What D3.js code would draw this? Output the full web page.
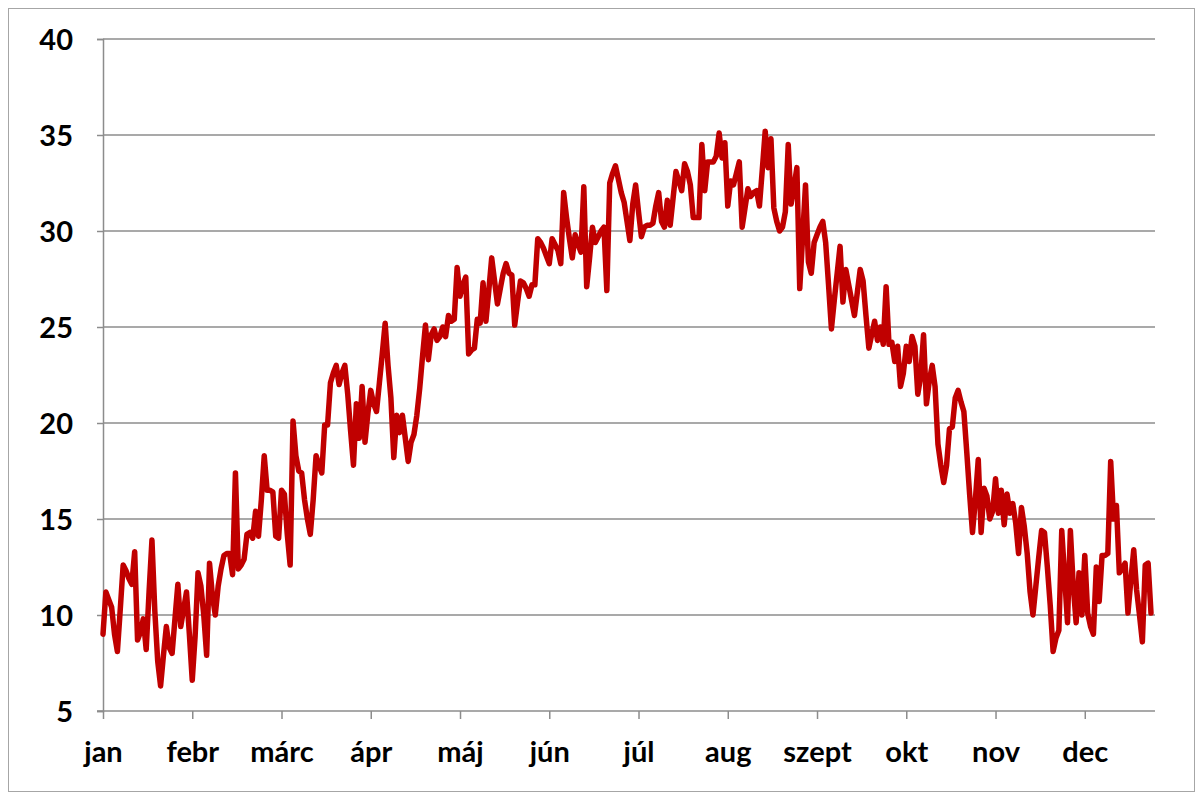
<!DOCTYPE html>
<html>
<head>
<meta charset="utf-8">
<script src="https://cdn.jsdelivr.net/npm/d3@7"></script>
<style>
  html, body { margin: 0; padding: 0; background: #fff; }
  svg { display: block; }
  .lbl { font-family: Lato, "Liberation Sans", sans-serif; font-weight: 700; font-size: 29px; fill: #000; }
</style>
</head>
<body>
<svg id="chart" width="1203" height="800"></svg>
<script>
// daily values, one array per calendar month
const jan = [9.0, 11.2, 10.8, 10.4, 9.0, 8.1, 10.3, 12.6, 12.3, 11.9, 11.6, 13.3, 8.7, 9.1, 9.8, 8.2,
  11.2, 13.9, 10.2, 7.6, 6.3, 7.9, 9.4, 8.3, 8.0, 9.8, 11.6, 9.4, 10.3, 11.2, 9.0];
const febr = [6.6, 8.9, 12.2, 11.5, 10.0, 7.9, 12.7, 11.0, 10.0, 11.5, 12.4, 13.1, 13.2, 13.2, 12.1,
  17.4, 12.4, 12.6, 12.9, 14.2, 14.3, 14.0, 15.4, 14.1, 16.0, 18.3, 16.5, 16.5];
const marc = [16.4, 14.1, 14.0, 16.5, 16.3, 14.2, 12.6, 20.1, 18.3, 17.5, 17.4, 16.0, 15.0, 14.2, 16.0,
  18.3, 17.8, 17.4, 19.9, 19.9, 22.1, 22.6, 23.0, 22.0, 22.6, 23.0, 21.5, 19.6, 17.8, 21.0, 19.2];
const apr = [21.9, 19.0, 20.5, 21.7, 21.0, 20.6, 22.1, 23.6, 25.2, 23.0, 21.3, 18.2, 20.4, 19.5, 20.4,
  19.2, 18.0, 19.0, 19.4, 20.4, 21.8, 23.5, 25.1, 23.3, 24.6, 24.9, 24.3, 24.5, 25.0, 24.5];
const maj = [25.6, 25.3, 25.4, 28.1, 26.6, 27.2, 27.6, 23.6, 23.8, 23.9, 25.4, 25.2, 27.3, 25.3, 26.9,
  28.6, 27.4, 26.2, 27.0, 27.8, 28.3, 27.8, 27.7, 25.1, 26.3, 27.4, 27.3, 27.0, 26.6, 27.2, 27.2];
const jun = [29.6, 29.4, 29.1, 28.7, 28.3, 29.6, 29.3, 29.0, 28.3, 32.0, 30.7, 29.6, 28.6, 29.8, 29.3,
  28.9, 32.3, 27.1, 28.6, 30.2, 29.4, 29.7, 30.0, 30.2, 26.9, 32.5, 33.0, 33.4, 32.7, 32.0];
const jul = [31.5, 30.5, 29.5, 31.4, 32.4, 31.0, 29.7, 30.2, 30.3, 30.3, 30.4, 31.3, 32.0, 30.5, 30.2,
  31.6, 30.3, 31.7, 33.1, 32.6, 32.1, 33.5, 33.1, 32.4, 30.7, 30.7, 30.7, 34.5, 32.1, 33.6, 33.6];
const aug = [33.6, 33.9, 35.1, 33.8, 34.6, 31.3, 32.6, 32.4, 33.0, 33.6, 30.2, 31.2, 32.2, 31.8, 32.0,
  32.1, 31.3, 33.2, 35.2, 33.3, 34.8, 31.2, 30.5, 30.0, 30.2, 31.0, 34.5, 31.4, 32.3, 33.3, 27.0];
const szept = [29.7, 32.4, 28.4, 27.8, 29.4, 29.8, 30.2, 30.5, 29.4, 27.2, 24.9, 26.4, 27.8, 29.2, 26.3,
  28.0, 27.2, 26.4, 25.6, 26.8, 28.0, 27.4, 25.6, 23.9, 24.6, 25.3, 24.3, 25.0, 24.1, 27.1];
const okt = [24.1, 24.2, 23.2, 24.0, 21.9, 22.6, 24.0, 23.2, 24.5, 24.0, 21.5, 22.4, 24.6, 21.0, 22.2,
  23.0, 21.9, 18.9, 17.8, 16.9, 17.8, 19.7, 19.8, 21.3, 21.7, 21.1, 20.6, 18.5, 16.3, 14.3, 16.0];
const nov = [18.1, 14.3, 16.6, 16.2, 15.0, 15.4, 17.1, 15.3, 16.5, 14.7, 16.3, 15.3, 15.8, 14.8, 13.2,
  15.6, 14.6, 13.2, 11.2, 10.0, 11.5, 13.0, 14.4, 14.3, 12.5, 10.5, 8.1, 8.8, 9.2, 14.4];
const dec = [12.0, 9.6, 14.4, 11.5, 9.6, 12.2, 10.0, 13.1, 10.1, 9.4, 9.0, 12.5, 10.7, 13.1, 13.1,
  13.2, 18.0, 15.0, 15.7, 12.2, 12.4, 12.7, 10.1, 11.8, 13.4, 11.3, 10.0, 8.6, 12.6, 12.7, 10.1];

const monthLabels = ['jan', 'febr', 'márc', 'ápr', 'máj', 'jún', 'júl', 'aug', 'szept', 'okt', 'nov', 'dec'];
const yTicks = [5, 10, 15, 20, 25, 30, 35, 40];
const labelEvery = 31;

const temps = [].concat(jan, febr, marc, apr, maj, jun, jul, aug, szept, okt, nov, dec);

const svg = d3.select('#chart');
const plot = { left: 103, right: 1155, top: 39, bottom: 711 };

// chart-area frame
svg.append('rect')
  .attr('x', 8.5).attr('y', 8.5)
  .attr('width', 1186).attr('height', 783)
  .attr('fill', 'none')
  .attr('stroke', '#a6a6a6')
  .attr('stroke-width', 1);

const x = d3.scaleLinear().domain([0, temps.length - 1]).range([plot.left, 1151]);
const y = d3.scaleLinear().domain([5, 40]).range([plot.bottom, plot.top]);

// horizontal gridlines
svg.append('g')
  .selectAll('line')
  .data(yTicks.slice(1))
  .join('line')
  .attr('x1', plot.left).attr('x2', plot.right)
  .attr('y1', d => y(d)).attr('y2', d => y(d))
  .attr('stroke', '#8c8c8c')
  .attr('stroke-width', 1.5);

// y axis
const yAxis = svg.append('g')
  .attr('transform', `translate(${plot.left},0)`)
  .call(d3.axisLeft(y).tickValues(yTicks).tickSize(6).tickPadding(24));
yAxis.select('.domain').attr('stroke', '#8c8c8c').attr('stroke-width', 1.5);
yAxis.selectAll('.tick line').attr('stroke', '#8c8c8c').attr('stroke-width', 1.5);
yAxis.selectAll('.tick text').attr('class', 'lbl').attr('dy', '0.36em');

// x axis, a tick every 31 days
const xTickVals = monthLabels.map((m, i) => i * labelEvery);
const xAxis = svg.append('g')
  .attr('transform', `translate(0,${plot.bottom})`)
  .call(d3.axisBottom(x).tickValues(xTickVals).tickSize(8).tickPadding(18)
    .tickFormat((d, i) => monthLabels[i]));
xAxis.select('.domain').attr('d', `M${plot.left - 6},0H${plot.right}`)
  .attr('stroke', '#8c8c8c').attr('stroke-width', 1.5);
xAxis.selectAll('.tick line').attr('stroke', '#8c8c8c').attr('stroke-width', 1.5);
xAxis.selectAll('.tick text').attr('class', 'lbl').attr('dy', '0.85em');

// temperature line
const line = d3.line()
  .x((d, i) => x(i))
  .y(d => y(d));

svg.append('path')
  .datum(temps)
  .attr('d', line)
  .attr('fill', 'none')
  .attr('stroke', '#c00000')
  .attr('stroke-width', 5.5)
  .attr('stroke-linejoin', 'round')
  .attr('stroke-linecap', 'round');
</script>
</body>
</html>
